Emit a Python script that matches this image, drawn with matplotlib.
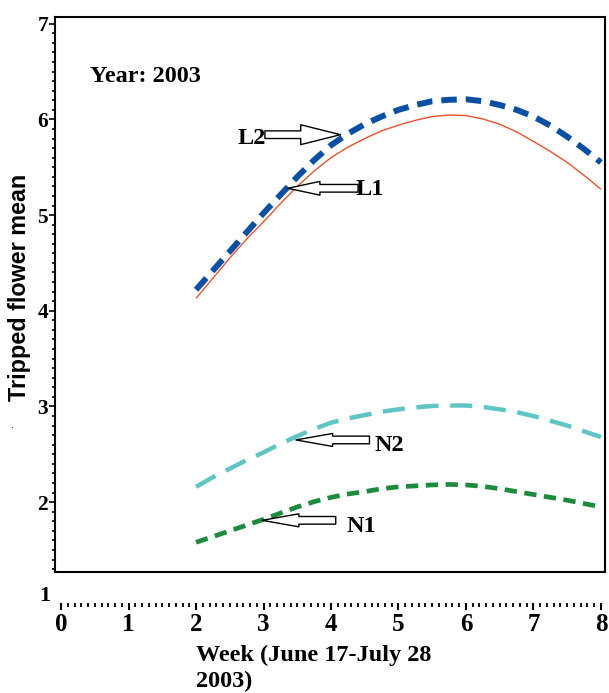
import matplotlib
matplotlib.use("Agg")
import matplotlib.pyplot as plt
from matplotlib.ticker import MultipleLocator

weeks = [2, 2.25, 2.5, 2.75, 3, 3.25, 3.5, 3.75, 4, 4.25, 4.5, 4.75, 5,
         5.25, 5.5, 5.75, 6, 6.25, 6.5, 6.75, 7, 7.25, 7.5, 7.75, 8]
L1 = [4.13, 4.34, 4.55, 4.75, 4.93, 5.12, 5.30, 5.46, 5.60, 5.71, 5.80, 5.88, 5.94,
      5.99, 6.03, 6.045, 6.04, 6.005, 5.95, 5.87, 5.77, 5.665, 5.55, 5.415, 5.27]
L2 = [4.22, 4.42, 4.62, 4.82, 5.02, 5.21, 5.40, 5.575, 5.73, 5.85, 5.95, 6.03, 6.10,
      6.15, 6.19, 6.205, 6.21, 6.19, 6.15, 6.10, 6.03, 5.935, 5.82, 5.69, 5.55]
N2 = [2.16, 2.26, 2.35, 2.44, 2.52, 2.61, 2.69, 2.765, 2.83, 2.875, 2.91, 2.945, 2.97,
      2.99, 3.005, 3.01, 3.01, 2.995, 2.97, 2.94, 2.90, 2.85, 2.80, 2.74, 2.68]
N1 = [1.58, 1.64, 1.70, 1.76, 1.82, 1.885, 1.95, 2.005, 2.05, 2.085, 2.11, 2.14, 2.16,
      2.17, 2.18, 2.185, 2.18, 2.165, 2.14, 2.11, 2.08, 2.05, 2.02, 1.985, 1.95]
xticks = [0, 1, 2, 3, 4, 5, 6, 7, 8]
yticks = [2, 3, 4, 5, 6, 7]

SERIF = "Liberation Serif"
SANS = "Liberation Sans"

W, H = 609, 693
fig = plt.figure(figsize=(W / 100, H / 100), dpi=100)

# main plotting box
L, R, T, B = 55, 605, 17, 572
ax = fig.add_axes([L / W, 1 - B / H, (R - L) / W, (B - T) / H])
ax.set_xlim(-0.09, 8.06)
ax.set_ylim(1.27, 7.07)
for s in ax.spines.values():
    s.set_linewidth(1.5)
ax.set_xticks([])
ax.set_yticks(yticks)
ax.yaxis.set_minor_locator(MultipleLocator(0.1))
ax.tick_params(axis="y", which="major", direction="out", length=4, width=1.2, pad=1)
ax.tick_params(axis="y", which="minor", direction="out", length=2.5, width=1.2)
ax.set_yticklabels([str(v) for v in yticks], fontfamily=SERIF, fontweight="bold", fontsize=15.5)

ax.plot(weeks, L1, color="#f0502a", lw=1.0, solid_capstyle="butt")
ax.plot(weeks, L2, color="#0a4fa6", lw=4.3, dashes=(2.6, 1.5))
ax.plot(weeks, N2, color="#5ec6c4", lw=3.2, dashes=(5.0, 2.6))
ax.plot(weeks, N1, color="#1a8c3c", lw=3.4, dashes=(2.6, 1.6))

ax.text(0.43, 6.45, "Year: 2003", fontfamily=SERIF, fontweight="bold", fontsize=17.5,
        ha="left", va="center")


def block_arrow(tip, tail, hl, hw):
    ax.annotate("", xy=tip, xytext=tail,
                arrowprops=dict(arrowstyle=f"simple,head_length={hl},head_width={hw},tail_width=0.5",
                                fc="white", ec="black", lw=1.0, shrinkA=0, shrinkB=0,
                                mutation_scale=11))


# L2
ax.text(2.83, 5.80, "L2", fontfamily=SERIF, fontweight="bold", fontsize=17.5, ha="center", va="center")
block_arrow((4.14, 5.84), (3.02, 5.84), 2.6, 1.3)
# L1
ax.text(4.58, 5.27, "L1", fontfamily=SERIF, fontweight="bold", fontsize=17.5, ha="center", va="center")
block_arrow((3.36, 5.28), (4.40, 5.28), 2.1, 0.9)
# N2
ax.text(4.87, 2.59, "N2", fontfamily=SERIF, fontweight="bold", fontsize=17.5, ha="center", va="center")
block_arrow((3.48, 2.65), (4.57, 2.65), 2.4, 0.85)
# N1
ax.text(4.45, 1.75, "N1", fontfamily=SERIF, fontweight="bold", fontsize=17.5, ha="center", va="center")
block_arrow((2.98, 1.81), (4.07, 1.81), 2.4, 0.85)

# separate x axis below the box
axx = fig.add_axes([L / W, 1 - 603 / H, (R - L) / W, 0.0001])
axx.set_xlim(-0.09, 8.06)
axx.set_yticks([])
for s in axx.spines.values():
    s.set_visible(False)
axx.set_xticks(xticks)
axx.xaxis.set_minor_locator(MultipleLocator(0.1))
axx.tick_params(axis="x", which="major", direction="out", length=5, width=1.5, pad=2)
axx.tick_params(axis="x", which="minor", direction="out", length=2.8, width=1.3)
axx.set_xticklabels([str(v) for v in xticks], fontfamily=SERIF, fontweight="bold", fontsize=18)
axx.patch.set_visible(False)

fig.text(45 / W, 1 - 596 / H, "1", fontfamily=SERIF, fontweight="bold", fontsize=16,
         ha="center", va="center")

fig.text(196 / W, 1 - 645 / H, "Week (June 17-July 28\n2003)", fontfamily=SERIF,
         fontweight="bold", fontsize=17.5, ha="left", va="top", linespacing=1.3)

fig.text(20 / W, 1 - 287 / H, "Tripped flower mean", fontfamily=SANS, fontweight="bold",
         fontsize=16.8, rotation=90, ha="center", va="center")
fig.text(12 / W, 1 - 425 / H, ".", fontfamily=SANS, fontsize=8, ha="center", va="center")

fig.savefig("out.png", dpi=100)
